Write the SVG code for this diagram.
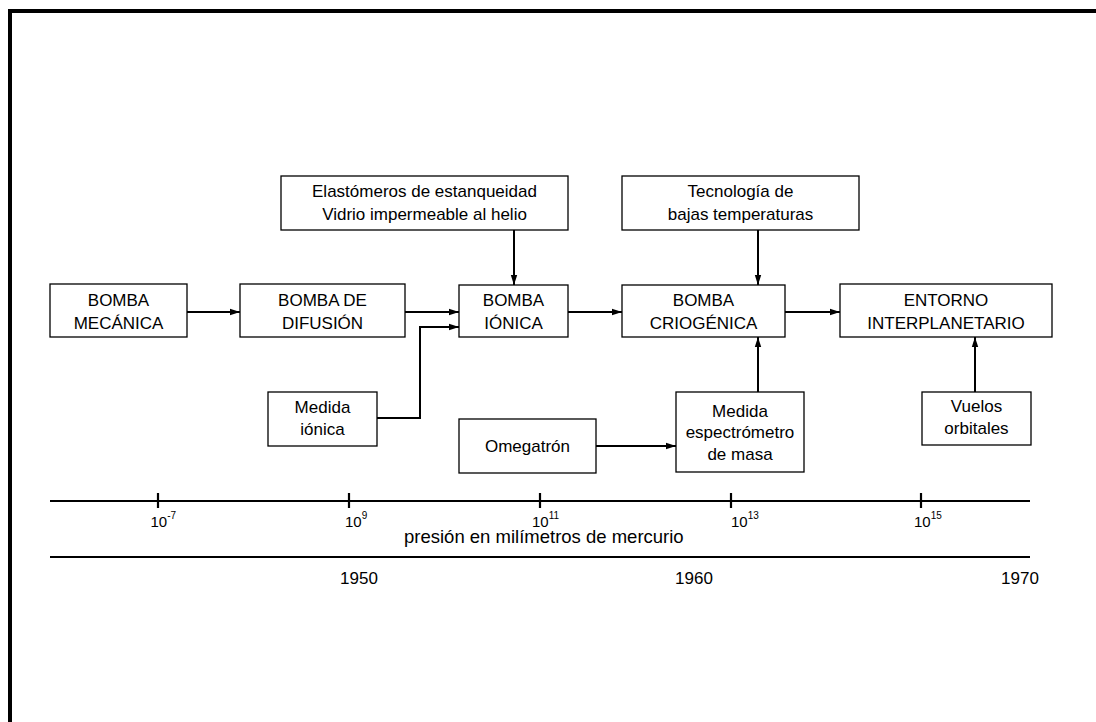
<svg xmlns="http://www.w3.org/2000/svg" width="1096" height="722" viewBox="0 0 1096 722">
  <style>
    .box { fill: #fff; stroke: #000; stroke-width: 1.3; }
    .lbl { font-family: "Liberation Sans", Arial, sans-serif; font-size: 17px; fill: #000; text-anchor: middle; }
    .con { fill: none; stroke: #000; stroke-width: 2; marker-end: url(#arr); }
    .axis { fill: none; stroke: #000; stroke-width: 2.2; }
    .tick { font-family: "Liberation Sans", Arial, sans-serif; font-size: 15px; fill: #000; }
    .sup { font-size: 10px; }
    .title { font-family: "Liberation Sans", Arial, sans-serif; font-size: 18.5px; fill: #000; }
    .year { font-family: "Liberation Sans", Arial, sans-serif; font-size: 17px; fill: #000; text-anchor: middle; }
  </style>
  <defs>
    <marker id="arr" markerUnits="userSpaceOnUse" markerWidth="12" markerHeight="10" refX="10" refY="4" orient="auto">
      <path d="M0,0.8 L10,4 L0,7.2 Z" fill="#000"/>
    </marker>
  </defs>

  <!-- page frame -->
  <path d="M10,722 V11 H1100" fill="none" stroke="#000" stroke-width="4"/>

  <!-- connectors -->
  <g id="connectors">
    <path class="con" d="M187,312 H240"/>
    <path class="con" d="M405,312 H459"/>
    <path class="con" d="M377,418 H420 V327 H459"/>
    <path class="con" d="M514,230 V285"/>
    <path class="con" d="M568,312 H622"/>
    <path class="con" d="M758,230 V285"/>
    <path class="con" d="M596,446 H676"/>
    <path class="con" d="M758,392 V337"/>
    <path class="con" d="M785,312 H840"/>
    <path class="con" d="M975,392 V337"/>
  </g>

  <!-- nodes -->
  <g id="bomba-mecanica">
    <rect class="box" x="50" y="284" width="137" height="53"/>
    <text class="lbl" x="118.5" y="306">BOMBA</text>
    <text class="lbl" x="118.5" y="329">MECÁNICA</text>
  </g>
  <g id="bomba-difusion">
    <rect class="box" x="240" y="284" width="165" height="53"/>
    <text class="lbl" x="322.5" y="306">BOMBA DE</text>
    <text class="lbl" x="322.5" y="329">DIFUSIÓN</text>
  </g>
  <g id="bomba-ionica">
    <rect class="box" x="459" y="285" width="109" height="52"/>
    <text class="lbl" x="513.5" y="306">BOMBA</text>
    <text class="lbl" x="513.5" y="329">IÓNICA</text>
  </g>
  <g id="bomba-criogenica">
    <rect class="box" x="622" y="285" width="163" height="52"/>
    <text class="lbl" x="703.5" y="306">BOMBA</text>
    <text class="lbl" x="703.5" y="329">CRIOGÉNICA</text>
  </g>
  <g id="entorno-interplanetario">
    <rect class="box" x="840" y="284" width="212" height="53"/>
    <text class="lbl" x="946" y="306">ENTORNO</text>
    <text class="lbl" x="946" y="329">INTERPLANETARIO</text>
  </g>
  <g id="elastomeros">
    <rect class="box" x="281" y="176" width="287" height="54"/>
    <text class="lbl" x="424.5" y="197">Elastómeros de estanqueidad</text>
    <text class="lbl" x="424.5" y="220">Vidrio impermeable al helio</text>
  </g>
  <g id="tecnologia">
    <rect class="box" x="622" y="176" width="237" height="54"/>
    <text class="lbl" x="740.5" y="197">Tecnología de</text>
    <text class="lbl" x="740.5" y="220">bajas temperaturas</text>
  </g>
  <g id="medida-ionica">
    <rect class="box" x="268" y="392" width="109" height="54"/>
    <text class="lbl" x="322.5" y="413">Medida</text>
    <text class="lbl" x="322.5" y="435">iónica</text>
  </g>
  <g id="omegatron">
    <rect class="box" x="459" y="419" width="137" height="54"/>
    <text class="lbl" x="527.5" y="452">Omegatrón</text>
  </g>
  <g id="medida-espectrometro">
    <rect class="box" x="676" y="392" width="128" height="80"/>
    <text class="lbl" x="740" y="417">Medida</text>
    <text class="lbl" x="740" y="438">espectrómetro</text>
    <text class="lbl" x="740" y="460">de masa</text>
  </g>
  <g id="vuelos-orbitales">
    <rect class="box" x="922" y="392" width="109" height="53"/>
    <text class="lbl" x="976.5" y="412">Vuelos</text>
    <text class="lbl" x="976.5" y="434">orbitales</text>
  </g>

  <!-- pressure scale -->
  <g id="pressure-axis">
    <path class="axis" d="M50,501 H1030"/>
    <path class="axis" d="M158,493 V508 M349,493 V508 M540,493 V508 M731,493 V508 M921,493 V508"/>
    <text class="tick" x="150.5" y="527">10<tspan class="sup" dy="-8">-7</tspan></text>
    <text class="tick" x="345" y="527">10<tspan class="sup" dy="-8">9</tspan></text>
    <text class="tick" x="532" y="527">10<tspan class="sup" dy="-8">11</tspan></text>
    <text class="tick" x="731" y="527">10<tspan class="sup" dy="-8">13</tspan></text>
    <text class="tick" x="914" y="527">10<tspan class="sup" dy="-8">15</tspan></text>
    <text class="title" x="404" y="543">presión en milímetros de mercurio</text>
  </g>

  <!-- year scale -->
  <g id="year-axis">
    <path class="axis" d="M50,557 H1030"/>
    <text class="year" x="359" y="584">1950</text>
    <text class="year" x="694" y="584">1960</text>
    <text class="year" x="1020" y="584">1970</text>
  </g>
</svg>
